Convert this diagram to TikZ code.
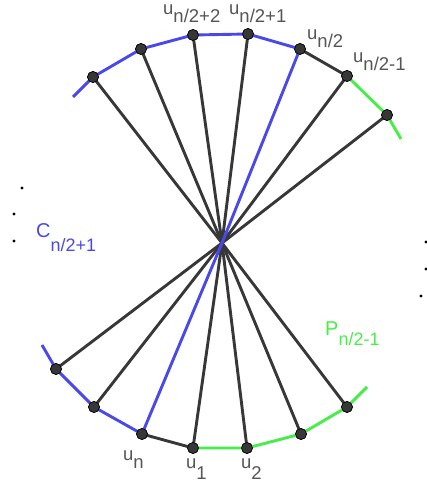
\documentclass[tikz,border=0pt]{standalone}
\usepackage{fontspec}
\setmainfont{Liberation Sans}
\definecolor{myblue}{RGB}{72,72,235}
\definecolor{mygreen}{RGB}{72,238,72}
\definecolor{mygray}{RGB}{55,55,55}
\definecolor{labgray}{RGB}{85,85,85}
\begin{document}
\begin{tikzpicture}[x=1pt,y=-1pt,
  vtx/.style={circle,fill=mygray,draw=black,line width=0.6pt,inner sep=0pt,minimum size=11pt},
  spoke/.style={draw=mygray,line width=2.9pt},
  bluel/.style={draw=myblue,line width=2.9pt},
  greenl/.style={draw=mygreen,line width=2.9pt},
  lab/.style={anchor=base west,inner sep=0pt,text=labgray,font=\fontsize{18.5}{18.5}\selectfont},
  biglab/.style={anchor=base west,inner sep=0pt,font=\fontsize{20}{20}\selectfont},
  sdot/.style={circle,fill=black,inner sep=0pt,minimum size=3.4pt}]
\useasboundingbox (0,0) rectangle (427,486);
\coordinate (o) at (222,243);
% top vertices
\node[vtx] (t1) at (93,77) {};
\node[vtx] (t2) at (141,49) {};
\node[vtx] (t3) at (193,35) {};
\node[vtx] (t4) at (248,34) {};
\node[vtx] (t5) at (300,49) {};
\node[vtx] (t6) at (347,76) {};
\node[vtx] (t7) at (387,115) {};
\coordinate (ta) at (73,97);
\coordinate (tb) at (401,139);
% bottom vertices
\node[vtx] (b1) at (56,369) {};
\node[vtx] (b2) at (94,407) {};
\node[vtx] (b3) at (142,434) {};
\node[vtx] (b4) at (193,448) {};
\node[vtx] (b5) at (247,448) {};
\node[vtx] (b6) at (301,434) {};
\node[vtx] (b7) at (347,407) {};
\coordinate (ba) at (42,345);
\coordinate (bb) at (367,387);
% spokes
\foreach \v in {t1,t2,t3,t4,t6,t7,b1,b2,b4,b5,b6,b7}
  \draw[spoke] (o) -- (\v.center);
\draw[bluel] (o) -- (t5.center);
\draw[bluel] (o) -- (b3.center);
% arcs
\draw[bluel] (ta) -- (t1.center) -- (t2.center) -- (t3.center) -- (t4.center) -- (t5.center);
\draw[spoke] (t5.center) -- (t6.center);
\draw[greenl] (t6.center) -- (t7.center) -- (tb);
\draw[bluel] (ba) -- (b1.center) -- (b2.center) -- (b3.center);
\draw[spoke] (b3.center) -- (b4.center);
\draw[greenl] (b4.center) -- (b5.center) -- (b6.center) -- (b7.center) -- (bb);
% redraw vertices on top
\foreach \v/\p in {t1/{93,77},t2/{141,49},t3/{193,35},t4/{248,34},t5/{300,49},t6/{347,76},t7/{387,115},b1/{56,369},b2/{94,407},b3/{142,434},b4/{193,448},b5/{247,448},b6/{301,434},b7/{347,407}}
  \node[vtx] at (\p) {};
% labels
\node[lab] (l1) at (163,15) {u\raisebox{-8pt}{n/2+2}};
\node[lab] (l2) at (229,15) {u\raisebox{-8pt}{n/2+1}};
\node[lab] (l3) at (307,40) {u\raisebox{-8pt}{n/2}};
\node[lab] (l4) at (353,63) {u\raisebox{-8pt}{n/2-1}};
\node[lab] (l5) at (123,460) {u\raisebox{-8pt}{n}};
\node[lab] (l6) at (186,468) {u\raisebox{-11pt}{1}};
\node[lab] (l7) at (241,468) {u\raisebox{-11pt}{2}};
\node[biglab,text=myblue] (lc) at (36,237) {C\raisebox{-14pt}{\fontsize{18}{18}\selectfont n/2+1}};
\node[biglab,text=mygreen] (lp) at (325,335) {P\raisebox{-10pt}{\fontsize{18}{18}\selectfont n/2-1}};
% small dots
\node[sdot] (d1) at (22,188) {};
\node[sdot] (d2) at (14,214) {};
\node[sdot] (d3) at (14,241) {};
\node[sdot] (d4) at (426,242) {};
\node[sdot] (d5) at (426,269) {};
\node[sdot] (d6) at (421,296) {};
\end{tikzpicture}
\end{document}
